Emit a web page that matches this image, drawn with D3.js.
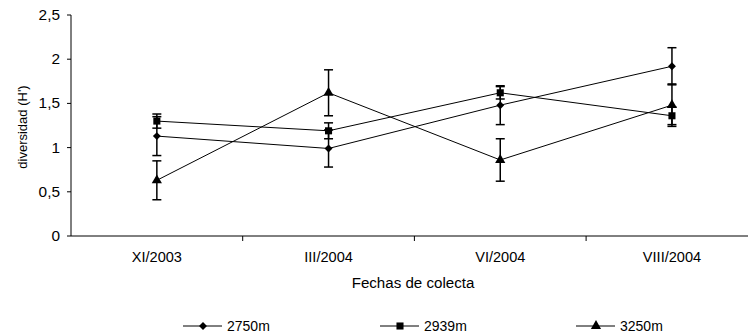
<!DOCTYPE html>
<html><head><meta charset="utf-8">
<script src="https://cdn.jsdelivr.net/npm/d3@7"></script>
<style>
body{margin:0;background:#fff;}
text{font-family:"Liberation Sans",Arial,sans-serif;fill:#000;}
</style></head>
<body><svg id="c" width="748" height="334"></svg>
<script>
const categories = ["XI/2003","III/2004","VI/2004","VIII/2004"];
const seriesNames = ["2750m","2939m","3250m"];
const values2750 = [1.13, 0.99, 1.48, 1.92];
const errors2750 = [0.22, 0.21, 0.22, 0.21];
const values2939 = [1.30, 1.19, 1.62, 1.36];
const errors2939 = [0.08, 0.09, 0.07, 0.10];
const values3250 = [0.63, 1.62, 0.86, 1.48];
const errors3250 = [0.22, 0.26, 0.24, 0.24];
const yTicks = [0, 0.5, 1, 1.5, 2, 2.5];
const yTickLabels = ["0","0,5","1","1,5","2","2,5"];
const xTitle = "Fechas de colecta";
const yTitle = "diversidad (H')";

const series = [
  {name: seriesNames[0], values: values2750, errors: errors2750, symbol: d3.symbolDiamond2, size: 40},
  {name: seriesNames[1], values: values2939, errors: errors2939, symbol: d3.symbolSquare, size: 50},
  {name: seriesNames[2], values: values3250, errors: errors3250, symbol: d3.symbolTriangle, size: 45}
];

const svg = d3.select("#c");
const x = d3.scaleBand().domain(categories).range([71, 757.8]);
const y = d3.scaleLinear().domain([0, 2.5]).range([236, 15]);

// y axis
const gy = svg.append("g").attr("transform","translate(71,0)");
gy.append("line").attr("y1",y(0)).attr("y2",y(2.5)).attr("stroke","#000");
const yt = gy.selectAll(".yt").data(yTicks).join("g").attr("transform",d=>`translate(0,${y(d)})`);
yt.append("line").attr("x1",-4).attr("x2",0).attr("stroke","#000");
yt.append("text").attr("transform","translate(-11,5) scale(1.1,1)").attr("text-anchor","end")
  .style("font-size","14px").text((d,i)=>yTickLabels[i]);

// x axis
const gx = svg.append("g").attr("transform","translate(0,236)");
gx.append("line").attr("x1",71).attr("x2",758).attr("stroke","#000");
gx.selectAll(".tk").data(categories.slice(1)).join("line")
  .attr("x1",d=>x(d)).attr("x2",d=>x(d)).attr("y1",0).attr("y2",5).attr("stroke","#000");
gx.selectAll(".lb").data(categories).join("text")
  .attr("transform",d=>`translate(${x(d)+x.bandwidth()/2},25.5) scale(1.04,1)`)
  .attr("text-anchor","middle").style("font-size","14px").text(d=>d);

svg.append("text").attr("transform","translate(413,287.5) scale(1.08,1)").attr("text-anchor","middle").style("font-size","14px").text(xTitle);
svg.append("text").attr("transform","translate(27,127) rotate(-90)").attr("text-anchor","middle").style("font-size","13px").text(yTitle);

const cx = d => x(d) + x.bandwidth()/2;
const line = d3.line().x(d=>cx(d.c)).y(d=>y(d.v));

series.forEach(s=>{
  const pts = categories.map((c,i)=>({c, v:s.values[i], e:s.errors[i]}));
  const g = svg.append("g");
  g.append("path").datum(pts).attr("d",line).attr("fill","none").attr("stroke","#000").attr("stroke-width",1);
  const eb = g.selectAll(".eb").data(pts).join("g");
  eb.append("line").attr("x1",d=>cx(d.c)).attr("x2",d=>cx(d.c)).attr("y1",d=>y(d.v+d.e)).attr("y2",d=>y(d.v-d.e)).attr("stroke","#000").attr("stroke-width",1.5);
  eb.append("line").attr("x1",d=>cx(d.c)-4.5).attr("x2",d=>cx(d.c)+4.5).attr("y1",d=>y(d.v+d.e)).attr("y2",d=>y(d.v+d.e)).attr("stroke","#000").attr("stroke-width",1.5);
  eb.append("line").attr("x1",d=>cx(d.c)-4.5).attr("x2",d=>cx(d.c)+4.5).attr("y1",d=>y(d.v-d.e)).attr("y2",d=>y(d.v-d.e)).attr("stroke","#000").attr("stroke-width",1.5);
  g.selectAll(".m").data(pts).join("path")
    .attr("transform",d=>`translate(${cx(d.c)},${y(d.v)})`)
    .attr("d",d3.symbol().type(s.symbol).size(s.size)).attr("fill","#000");
});

// legend
const legX = [183, 380, 576];
const legY = 326;
series.forEach((s,i)=>{
  const g = svg.append("g").attr("transform",`translate(${legX[i]},${legY})`);
  g.append("line").attr("x1",0).attr("x2",39).attr("stroke","#000").attr("stroke-width",1);
  g.append("path").attr("transform","translate(20,0)").attr("d",d3.symbol().type(s.symbol).size(s.size)).attr("fill","#000");
  g.append("text").attr("x",44).attr("y",5).style("font-size","14px").text(s.name);
});
</script></body></html>
